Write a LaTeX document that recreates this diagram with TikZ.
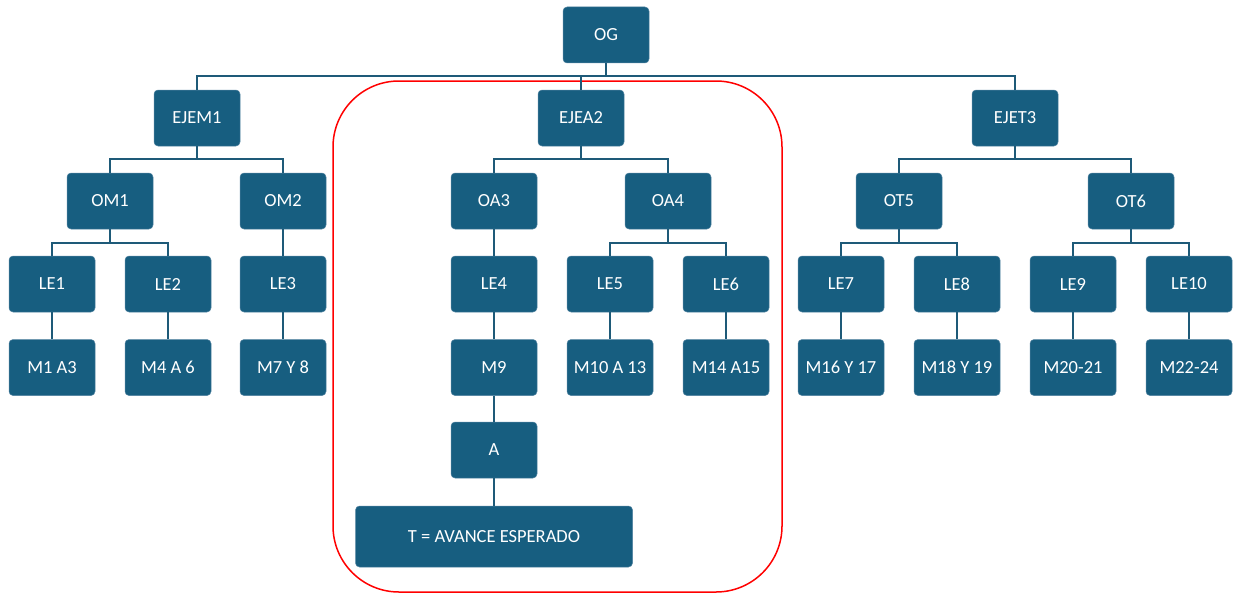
\documentclass[tikz,border=0pt]{standalone}
\usepackage{fontspec}
\setmainfont{Carlito}
\definecolor{boxfill}{RGB}{23,94,128}
\definecolor{boxedge}{RGB}{80,130,160}
\definecolor{conncol}{RGB}{30,90,120}
\begin{document}
\begin{tikzpicture}[x=1pt,y=-1pt,
  box/.style={draw=boxedge,line width=0.5pt,fill=boxfill,rounded corners=4pt,
    minimum width=86pt,minimum height=56pt,inner sep=0pt,text=white,
    font=\fontsize{18.5}{20}\selectfont},
  conn/.style={draw=conncol,line width=1.8pt}]
\useasboundingbox (0,0) rectangle (1233,594);
% red highlight frame
\draw[red,line width=1.5pt,rounded corners=66pt] (333,81) rectangle (782,592);
% nodes
\node[box] (OG) at (606,35) {OG};
\node[box] (EJEM1) at (197,118) {EJEM1};
\node[box] (EJEA2) at (581,118) {EJEA2};
\node[box] (EJET3) at (1015,118) {EJET3};
\node[box] (OM1) at (110,201) {OM1};
\node[box] (OM2) at (283,201) {OM2};
\node[box] (OA3) at (494,201) {OA3};
\node[box] (OA4) at (668,201) {OA4};
\node[box] (OT5) at (899,201) {OT5};
\node[box] (OT6) at (1131,201) {OT6};
\node[box] (LE1) at (52,284) {LE1};
\node[box] (LE2) at (168,284) {LE2};
\node[box] (LE3) at (283,284) {LE3};
\node[box] (LE4) at (494,284) {LE4};
\node[box] (LE5) at (610,284) {LE5};
\node[box] (LE6) at (726,284) {LE6};
\node[box] (LE7) at (841,284) {LE7};
\node[box] (LE8) at (957,284) {LE8};
\node[box] (LE9) at (1073,284) {LE9};
\node[box] (LE10) at (1189,284) {LE10};
\node[box] (M1) at (52,367.5) {M1 A3};
\node[box] (M4) at (168,367.5) {M4 A 6};
\node[box] (M7) at (283,367.5) {M7 Y 8};
\node[box] (M9) at (494,367.5) {M9};
\node[box] (M10) at (610,367.5) {M10 A 13};
\node[box] (M14) at (726,367.5) {M14 A15};
\node[box] (M16) at (841,367.5) {M16 Y 17};
\node[box] (M18) at (957,367.5) {M18 Y 19};
\node[box] (M20) at (1073,367.5) {M20-21};
\node[box] (M22) at (1189,367.5) {M22-24};
\node[box] (A) at (494,450) {A};
\node[box,minimum width=277pt,minimum height=61pt] (T) at (494,536.5) {T = AVANCE ESPERADO};
% bus coordinates
\coordinate (b0) at (0,76);
\coordinate (b1) at (0,159);
\coordinate (b2) at (0,243);
% level 0 -> 1
\draw[conn] (OG.south) -- (OG.south |- b0);
\draw[conn] (EJEM1.north) -- (EJEM1.north |- b0) -- (EJET3.north |- b0) -- (EJET3.north);
\draw[conn] (EJEA2.north) -- (EJEA2.north |- b0);
% level 1 -> 2
\draw[conn] (EJEM1.south) -- (EJEM1.south |- b1);
\draw[conn] (OM1.north) -- (OM1.north |- b1) -- (OM2.north |- b1) -- (OM2.north);
\draw[conn] (EJEA2.south) -- (EJEA2.south |- b1);
\draw[conn] (OA3.north) -- (OA3.north |- b1) -- (OA4.north |- b1) -- (OA4.north);
\draw[conn] (EJET3.south) -- (EJET3.south |- b1);
\draw[conn] (OT5.north) -- (OT5.north |- b1) -- (OT6.north |- b1) -- (OT6.north);
% level 2 -> 3
\draw[conn] (OM1.south) -- (OM1.south |- b2);
\draw[conn] (LE1.north) -- (LE1.north |- b2) -- (LE2.north |- b2) -- (LE2.north);
\draw[conn] (OM2.south) -- (LE3.north);
\draw[conn] (OA3.south) -- (LE4.north);
\draw[conn] (OA4.south) -- (OA4.south |- b2);
\draw[conn] (LE5.north) -- (LE5.north |- b2) -- (LE6.north |- b2) -- (LE6.north);
\draw[conn] (OT5.south) -- (OT5.south |- b2);
\draw[conn] (LE7.north) -- (LE7.north |- b2) -- (LE8.north |- b2) -- (LE8.north);
\draw[conn] (OT6.south) -- (OT6.south |- b2);
\draw[conn] (LE9.north) -- (LE9.north |- b2) -- (LE10.north |- b2) -- (LE10.north);
% level 3 -> 4
\draw[conn] (LE1.south) -- (M1.north);
\draw[conn] (LE2.south) -- (M4.north);
\draw[conn] (LE3.south) -- (M7.north);
\draw[conn] (LE4.south) -- (M9.north);
\draw[conn] (LE5.south) -- (M10.north);
\draw[conn] (LE6.south) -- (M14.north);
\draw[conn] (LE7.south) -- (M16.north);
\draw[conn] (LE8.south) -- (M18.north);
\draw[conn] (LE9.south) -- (M20.north);
\draw[conn] (LE10.south) -- (M22.north);
% chain below M9
\draw[conn] (M9.south) -- (A.north);
\draw[conn] (A.south) -- (T.north);
\end{tikzpicture}
\end{document}
